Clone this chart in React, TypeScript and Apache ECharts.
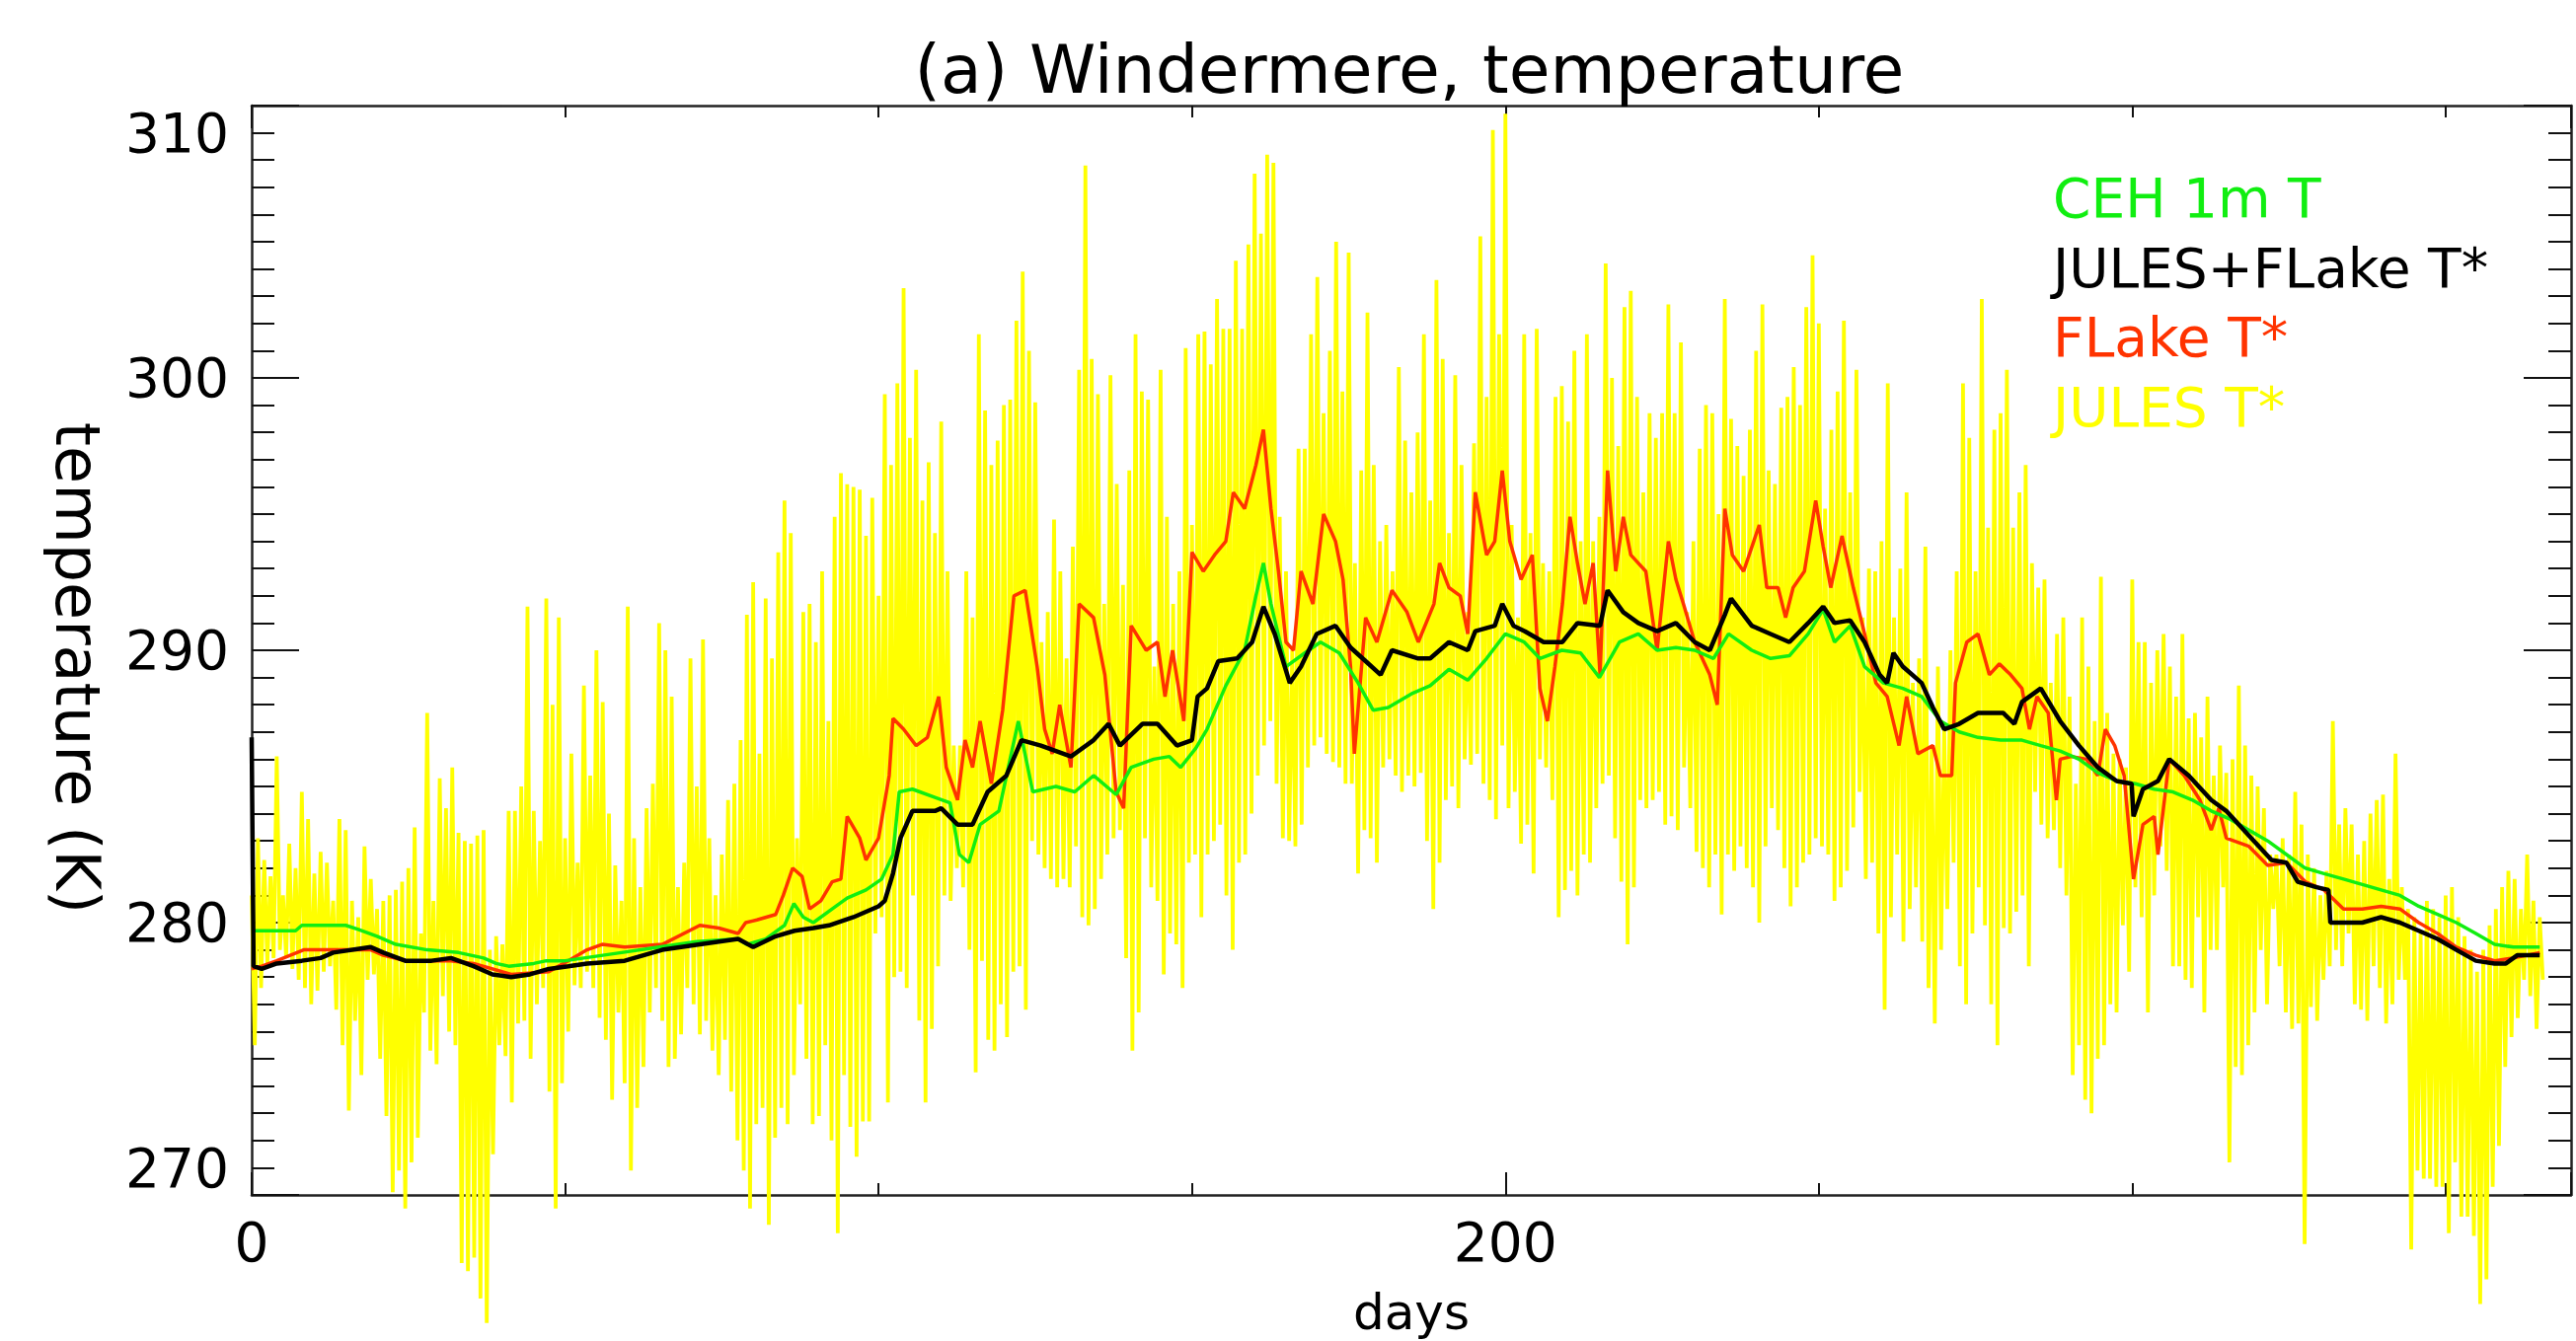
import React, { useEffect, useRef } from 'react';
import * as echarts from 'echarts';

const FONT = 'DejaVu Sans';

const titleText = '(a) Windermere, temperature';
const xName = 'days';
const yName = 'temperature (K)';
const xTickLabels = [0, 200];
const seriesNames = ['CEH 1m T', 'JULES+FLake T*', 'FLake T*', 'JULES T*'];
const seriesColors = ['#11ee11', '#000000', '#ff3300', '#ffff00'];

// JULES T*: daily upper and lower extremes, day 0..365
const julesHigh = [
  281.0, 283.1, 282.3, 281.7, 286.1, 281.0, 282.9, 282.0, 284.8, 283.8,
  281.8, 282.6, 282.2, 280.8, 283.8, 283.4, 280.8, 280.2, 282.8, 281.6,
  280.5, 280.8, 281.0, 281.2, 281.5, 282.0, 283.5, 279.6, 287.7, 280.8,
  285.3, 284.2, 285.7, 283.3, 283.0, 282.9, 283.2, 283.4, 279.0, 279.5,
  279.2, 284.1, 284.1, 285.0, 291.6, 284.1, 283.0, 291.9, 288.0, 291.2,
  283.1, 286.2, 282.2, 288.7, 285.4, 290.0, 288.1, 284.0, 282.1, 280.8,
  291.6, 283.1, 281.3, 284.2, 285.1, 291.0, 290.0, 288.3, 281.3, 282.2,
  289.7, 285.0, 290.4, 283.1, 281.0, 282.5, 284.5, 285.1, 286.7, 291.3,
  292.5, 286.2, 291.9, 289.7, 293.6, 295.5, 294.3, 283.1, 291.4, 291.7,
  290.3, 292.9, 287.4, 294.9, 296.5, 296.1, 296.0, 295.9, 294.2, 295.6,
  292.0, 299.4, 296.8, 299.8, 303.3, 297.8, 300.3, 295.5, 296.9, 294.3,
  298.4, 292.9, 286.5, 286.5, 292.9, 291.2, 301.6, 298.8, 296.8, 297.7,
  299.0, 299.2, 302.1, 303.9, 301.0, 299.1, 290.3, 291.4, 294.8, 292.9,
  289.7, 293.8, 300.3, 307.8, 300.7, 299.4, 291.7, 300.1, 296.1, 292.4,
  296.6, 301.6, 299.5, 299.2, 289.4, 300.3, 294.9, 291.7, 292.9, 301.1,
  294.6, 301.6, 301.7, 300.5, 302.9, 301.8, 301.8, 304.3, 301.8, 304.9,
  307.5, 305.3, 308.2, 307.9, 294.9, 292.9, 290.0, 297.4, 297.4, 301.6,
  303.7, 298.7, 301.0, 305.0, 299.5, 304.6, 293.2, 296.6, 302.4, 296.8,
  294.0, 294.6, 292.9, 300.4, 297.7, 295.8, 298.0, 301.6, 295.5, 303.6,
  300.7, 294.3, 300.1, 296.8, 291.4, 297.6, 305.2, 299.3, 309.1, 301.6,
  309.7, 294.6, 291.2, 301.6, 294.3, 301.8, 293.2, 292.9, 299.3, 299.7,
  298.4, 301.0, 294.0, 301.6, 294.0, 294.9, 304.2, 300.0, 297.5, 302.6,
  303.2, 299.3, 295.8, 298.7, 297.8, 298.7, 302.7, 298.7, 301.3, 291.4,
  294.0, 297.4, 299.0, 298.7, 295.0, 302.9, 298.5, 297.5, 296.4, 298.1,
  301.0, 302.7, 296.6, 296.1, 298.9, 299.3, 300.4, 299.0, 302.6, 304.5,
  302.0, 295.2, 298.1, 299.5, 302.1, 295.8, 300.3, 291.2, 293.0, 292.9,
  294.0, 299.8, 291.2, 293.0, 295.8, 288.8, 289.7, 293.8, 286.5, 289.4,
  287.1, 290.0, 292.9, 299.8, 297.8, 292.9, 302.9, 294.5, 298.1, 298.7,
  300.3, 294.5, 295.8, 296.8, 293.2, 292.3, 292.6, 288.8, 290.6, 291.2,
  288.3, 285.1, 291.2, 289.4, 287.4, 292.7, 287.7, 286.2, 286.0, 285.7,
  292.6, 290.3, 290.3, 288.8, 290.0, 290.6, 289.4, 288.3, 290.6, 287.5,
  287.7, 286.8, 288.3, 285.4, 286.5, 285.5, 286.0, 288.7, 286.5, 285.4,
  285.0, 284.2, 282.5, 282.5, 283.1, 282.5, 284.8, 283.6, 282.5, 282.0,
  281.0, 281.9, 287.4, 283.6, 284.2, 283.6, 282.5, 283.0, 284.0, 284.5,
  284.7, 281.6, 286.2, 281.3, 280.5, 280.2, 279.6, 280.8, 280.5, 280.2,
  281.0, 281.3, 280.2, 279.5, 279.0, 278.2, 279.0, 279.9, 280.5, 281.3,
  281.9, 281.6, 280.5, 282.5, 280.8, 280.2,
];

const julesLow = [
  275.5, 277.6, 278.5, 278.7, 279.0, 278.7, 278.3, 277.9, 277.6, 277.0,
  277.5, 278.2, 278.4, 276.8, 275.5, 273.1, 276.4, 274.4, 277.9, 278.1,
  275.0, 272.9, 270.1, 270.9, 269.5, 271.2, 272.1, 276.7, 275.3, 274.8,
  277.3, 276.0, 275.5, 267.5, 267.2, 267.7, 266.2, 265.3, 271.5, 275.5,
  275.1, 273.4, 276.3, 276.4, 275.0, 277.0, 277.6, 273.8, 269.5, 274.1,
  276.0, 277.7, 277.6, 278.2, 277.6, 276.5, 275.7, 273.5, 276.7, 274.1,
  270.9, 273.2, 274.7, 276.7, 277.6, 276.4, 274.7, 275.0, 275.9, 277.6,
  277.0, 275.9, 276.4, 275.3, 274.4, 275.7, 273.8, 272.0, 270.9, 269.5,
  272.6, 273.2, 268.9, 272.1, 273.2, 272.6, 274.4, 277.0, 275.0, 272.6,
  272.9, 275.5, 272.0, 268.6, 274.4, 272.5, 271.4, 272.7, 272.7, 279.6,
  280.2, 273.4, 278.0, 278.2, 277.6, 281.0, 276.4, 273.4, 276.1, 278.4,
  281.0, 280.8, 282.0, 281.3, 279.0, 274.5, 278.6, 275.7, 275.3, 277.0,
  275.8, 278.2, 278.4, 276.8, 283.0, 282.5, 282.0, 281.6, 281.3, 281.6,
  281.3, 282.8, 280.2, 279.9, 280.5, 281.6, 282.5, 283.1, 283.4, 278.7,
  275.3, 276.7, 283.1, 281.3, 280.8, 278.1, 279.6, 279.2, 277.6, 282.2,
  282.5, 280.2, 282.5, 283.0, 283.6, 281.0, 279.0, 282.2, 282.5, 284.0,
  285.4, 286.5, 287.4, 285.1, 283.1, 283.0, 282.8, 283.6, 285.7, 286.5,
  286.8, 286.2, 285.9, 285.7, 285.1, 285.1, 281.8, 283.4, 283.1, 282.2,
  285.7, 286.0, 285.4, 284.8, 285.4, 285.0, 285.5, 283.0, 280.5, 282.2,
  284.5, 285.0, 284.2, 286.0, 285.8, 286.2, 285.1, 284.5, 283.8, 286.5,
  284.2, 284.8, 282.9, 283.6, 281.8, 286.0, 285.7, 284.5, 280.2, 281.2,
  281.9, 281.0, 282.5, 282.2, 284.2, 285.1, 285.4, 283.1, 281.5, 279.2,
  281.3, 284.5, 284.2, 284.5, 284.8, 283.6, 283.9, 283.4, 285.7, 284.2,
  282.6, 282.0, 281.3, 282.5, 280.3, 282.5, 281.9, 282.8, 282.0, 281.3,
  280.0, 282.8, 284.2, 283.4, 282.0, 280.6, 281.3, 282.2, 282.5, 283.1,
  282.8, 282.5, 280.8, 281.3, 281.9, 283.5, 284.8, 281.6, 282.2, 279.6,
  276.8, 280.2, 282.5, 279.3, 280.5, 281.3, 279.3, 277.6, 276.3, 279.0,
  280.5, 282.2, 278.4, 277.0, 279.6, 281.3, 279.9, 277.0, 275.5, 279.8,
  279.6, 280.4, 281.0, 278.4, 284.8, 283.6, 283.1, 283.4, 282.0, 281.0,
  274.4, 275.5, 273.5, 273.0, 275.0, 275.5, 277.0, 276.7, 279.9, 278.2,
  281.3, 280.2, 276.7, 281.0, 282.8, 281.9, 278.4, 278.4, 277.9, 277.6,
  280.2, 276.7, 279.0, 279.0, 281.3, 271.2, 274.7, 274.4, 275.5, 276.7,
  279.0, 277.0, 280.5, 278.4, 276.7, 276.1, 276.3, 268.2, 276.9, 276.4,
  277.9, 278.4, 279.0, 278.4, 279.6, 277.0, 276.8, 276.4, 278.4, 277.6,
  276.3, 277.0, 277.9, 277.9, 268.0, 270.9, 270.6, 270.6, 270.3, 270.3,
  268.6, 271.2, 269.2, 269.2, 268.5, 266.0, 266.9, 270.3, 271.8, 274.7,
  275.8, 276.5, 277.9, 277.3, 276.1, 277.9,
];

// JULES+FLake T*
const jfDays = [
  0, 0.3, 1.6, 4, 8, 11, 13, 19, 21, 24.5, 28.7, 31.8, 35.4, 38.4, 41.4, 44.4, 47.4, 50.5, 53.5, 59.5,
  65.5, 71.5, 77.6, 80, 83.6, 86.6, 89.6, 92.1, 96, 98, 100, 101, 102.3, 103.5, 105.4, 109, 110, 112.6, 115, 117.4,
  120.4, 122.8, 125.9, 128.3, 130.7, 134.3, 136.7, 138.5, 142.1, 144.5, 147.6, 150, 150.9, 152.4, 154.2, 157.2, 159.6, 161.4, 163.2, 165.6,
  167.4, 169.9, 172.9, 175.3, 177.7, 180.1, 181.9, 186.1, 188, 191, 194, 195.2, 198.3, 199.5, 201.3, 203.1, 206.1, 209.1, 211.5, 215.1,
  216.3, 218.8, 221.2, 224.2, 227.2, 230.2, 232.6, 235, 236, 239.3, 242.3, 245.3, 248.3, 250.7, 252.5, 255, 257.3, 259.7, 260.9, 261.9,
  263.4, 266.4, 268.2, 270, 272.4, 275.4, 279.4, 281.2, 282.4, 285.4, 288.5, 291.5, 294.5, 297.5, 299.9, 300.2, 301.7, 304.1, 305.9, 309,
  312.6, 315, 318.6, 322.2, 324.6, 326.4, 329.4, 331.3, 331.6, 336.7, 339.7, 342.7, 345.7, 348.7, 351.7, 354.8, 357.8, 359.6, 361.4, 365,
];
const jfTemp = [
  286.8, 278.4, 278.3, 278.5, 278.6, 278.7, 278.9, 279.1, 278.9, 278.6, 278.6, 278.7, 278.4, 278.1, 278.0, 278.1, 278.3, 278.4, 278.5, 278.6,
  279.0, 279.2, 279.4, 279.1, 279.5, 279.7, 279.8, 279.9, 280.2, 280.4, 280.6, 280.8, 281.8, 283.1, 284.1, 284.1, 284.2, 283.6, 283.6, 284.8,
  285.4, 286.7, 286.5, 286.3, 286.1, 286.7, 287.3, 286.5, 287.3, 287.3, 286.5, 286.7, 288.3, 288.6, 289.6, 289.7, 290.3, 291.6, 290.6, 288.8,
  289.4, 290.6, 290.9, 290.1, 289.6, 289.1, 290.0, 289.7, 289.7, 290.3, 290.0, 290.7, 290.9, 291.7, 290.9, 290.7, 290.3, 290.3, 291.0, 290.9,
  292.2, 291.4, 291.0, 290.7, 291.0, 290.3, 290.0, 291.3, 291.9, 290.9, 290.6, 290.3, 291.0, 291.6, 291.0, 291.1, 290.3, 289.1, 288.8, 289.9,
  289.4, 288.8, 287.9, 287.1, 287.3, 287.7, 287.7, 287.3, 288.1, 288.6, 287.4, 286.5, 285.7, 285.2, 285.1, 283.9, 284.9, 285.2, 286.0, 285.4,
  284.5, 284.1, 283.2, 282.3, 282.2, 281.5, 281.3, 281.2, 280.0, 280.0, 280.2, 280.0, 279.7, 279.4, 279.0, 278.6, 278.5, 278.5, 278.8, 278.8,
];

// CEH 1m T
const cehDays = [
  0, 7, 8, 15, 17, 20, 23, 28, 33, 37, 39, 41, 45, 47, 50, 53, 59, 65, 71, 77.6,
  79, 82, 85, 86.5, 88, 89.6, 92.6, 95, 98, 100.5, 102.3, 103.3, 105.4, 109, 111.4, 112.9, 114.4, 116.2, 119.2, 122.3,
  124.6, 128.3, 131.3, 134.3, 137.9, 140.3, 143.9, 146.4, 148.2, 150.6, 152.4, 155.4, 158.4, 160.2, 161.4, 162.6, 165, 168, 170.5, 173.5,
  176.5, 178.9, 181.3, 185, 188, 191, 194, 197, 200, 203, 205.5, 209, 212, 215, 218.2, 221.2, 224.2, 227.2, 230.2, 233.2,
  235.6, 239.3, 242.3, 245.3, 248.3, 250.7, 252.5, 255, 257.3, 260.3, 263.4, 266.4, 269.4, 272.4, 275.4, 279, 282.4, 285.4, 288.5, 291.5,
  294.5, 297.5, 300.5, 303.5, 306.5, 309.6, 312.6, 315.6, 318.6, 321.6, 324.6, 327.6, 330.6, 333.7, 336.7, 339.7, 342.7, 345.7, 348.7, 351.7,
  354.8, 357.8, 360.8, 365,
];
const cehTemp = [
  279.7, 279.7, 279.9, 279.9, 279.75, 279.5, 279.2, 279.0, 278.9, 278.7, 278.5, 278.4, 278.5, 278.6, 278.6, 278.7, 278.9, 279.1, 279.3, 279.4,
  279.2, 279.4, 279.9, 280.7, 280.2, 280.0, 280.5, 280.9, 281.2, 281.6, 282.5, 284.8, 284.9, 284.6, 284.4, 282.5, 282.2, 283.6, 284.1, 287.4,
  284.8, 285.0, 284.8, 285.4, 284.7, 285.7, 286.0, 286.1, 285.7, 286.4, 287.1, 288.7, 290.0, 292.0, 293.2, 291.7, 289.4, 289.9, 290.3, 289.9,
  288.8, 287.8, 287.9, 288.4, 288.7, 289.3, 288.9, 289.7, 290.6, 290.3, 289.7, 290.0, 289.9, 289.0, 290.3, 290.6, 290.0, 290.1, 290.0, 289.7,
  290.6, 290.0, 289.7, 289.8, 290.6, 291.5, 290.3, 290.9, 289.4, 288.8, 288.6, 288.3, 287.4, 287.0, 286.8, 286.7, 286.7, 286.5, 286.3, 286.0,
  285.5, 285.2, 285.1, 284.9, 284.8, 284.5, 284.1, 283.8, 283.4, 283.0, 282.5, 282.0, 281.8, 281.6, 281.4, 281.2, 281.0, 280.6, 280.3, 280.0,
  279.6, 279.2, 279.1, 279.1,
];

// FLake T*
const flDays = [
  0, 1.6, 4, 8.3, 13, 19, 21, 24.5, 31.8, 35.4, 41.4, 47.4, 50.5, 53.5, 55.9, 59.5, 65.5, 71.5, 74.5, 77.6,
  78.8, 80.6, 83.6, 84.8, 86.3, 87.8, 89, 90.8, 92.6, 94, 95, 97, 98, 100, 101.7, 102.3, 104, 106, 107.8, 109.6,
  110.8, 112.6, 113.8, 115, 116.2, 118, 119.8, 121.6, 123.4, 125.3, 126.5, 127.7, 128.9, 130.7, 132, 134.3, 136.1, 137.9, 139.1, 140.3,
  142.7, 144.5, 145.7, 146.9, 148.7, 150, 151.8, 153.6, 155.4, 156.6, 158.4, 160.2, 161.4, 162.6, 163.8, 165, 166.2, 167.4, 169.3, 171,
  172.9, 174.1, 175.3, 175.9, 177.7, 179.5, 181.9, 184.3, 186.1, 188.6, 189.5, 191, 192.8, 194, 195.2, 197, 198.3, 199.5, 200.7, 202.5,
  204.3, 205.5, 206.7, 207.9, 209.1, 210.3, 211.5, 212.7, 214, 215.1, 216.3, 217.6, 218.8, 220, 222.4, 224.2, 226, 227.2, 228.4, 230.2,
  232.6, 233.8, 235, 236.2, 238, 240.5, 241.7, 243.5, 244.7, 245.9, 247.7, 249.5, 250.7, 251.9, 253.7, 255.5, 257.3, 259.1, 260.9, 262.8,
  264, 265.8, 268.2, 269.4, 271.2, 271.8, 273.6, 275.4, 277.2, 278.8, 280.6, 282.4, 283.6, 284.8, 286.6, 287.9, 288.5, 290.3, 292.7, 294.5,
  295.7, 297.2, 298.7, 300.2, 301.7, 303.5, 304.1, 305.9, 308.3, 310.8, 312.6, 313.8, 315, 318.6, 321.6, 324.6, 327.6, 330.6, 333.7, 336.7,
  339.7, 342.7, 345.7, 348.7, 351.7, 354.8, 357.8, 360.8, 365,
];
const flTemp = [
  278.3, 278.4, 278.6, 279.0, 279.0, 279.0, 278.8, 278.6, 278.6, 278.5, 278.1, 278.2, 278.6, 279.0, 279.2, 279.1, 279.2, 279.9, 279.8, 279.6,
  280.0, 280.1, 280.3, 281.0, 282.0, 281.7, 280.5, 280.8, 281.5, 281.6, 283.9, 283.1, 282.3, 283.1, 285.4, 287.5, 287.1, 286.5, 286.8, 288.3,
  285.7, 284.5, 286.7, 285.7, 287.4, 285.1, 287.8, 292.0, 292.2, 289.4, 287.1, 286.2, 288.0, 285.7, 291.7, 291.2, 289.1, 284.8, 284.2, 290.9,
  290.0, 290.3, 288.3, 290.0, 287.4, 293.6, 292.9, 293.5, 294.0, 295.8, 295.2, 296.8, 298.1, 295.2, 292.9, 290.3, 290.0, 292.9, 291.7, 295.0,
  294.0, 292.6, 289.4, 286.2, 291.2, 290.3, 292.2, 291.4, 290.3, 291.7, 293.2, 292.3, 292.0, 290.6, 295.8, 293.5, 294.0, 296.6, 294.0, 292.6,
  293.5, 288.6, 287.4, 289.4, 291.7, 294.9, 293.2, 291.7, 293.2, 289.1, 296.6, 292.9, 294.9, 293.5, 292.9, 290.0, 294.0, 292.6, 291.7, 290.3,
  289.1, 288.0, 295.2, 293.5, 292.9, 294.6, 292.3, 292.3, 291.2, 292.3, 292.9, 295.5, 293.8, 292.3, 294.2, 292.3, 290.6, 288.8, 288.3, 286.5,
  288.3, 286.2, 286.5, 285.4, 285.4, 288.8, 290.3, 290.6, 289.1, 289.5, 289.1, 288.6, 287.1, 288.3, 287.7, 284.5, 286.0, 286.1, 286.0, 285.4,
  287.1, 286.5, 285.4, 281.6, 283.6, 283.9, 282.5, 286.0, 285.4, 284.5, 283.4, 284.2, 283.1, 282.8, 282.1, 282.2, 281.5, 281.2, 280.5, 280.5,
  280.6, 280.5, 280.0, 279.6, 279.1, 278.8, 278.6, 278.7, 278.9,
];

const pairs = (xs: number[], ys: number[]) => xs.map((x, i) => [x, ys[i]]);

export default function App() {
  const ref = useRef<HTMLDivElement>(null);

  useEffect(() => {
    if (!ref.current) return;
    const chart = echarts.init(ref.current, null, { renderer: 'svg' });

    const julesData: number[][] = [];
    for (let d = 0; d < julesHigh.length; d++) {
      julesData.push([d, julesHigh[d]]);
      julesData.push([d + 0.5, julesLow[d]]);
    }

    const tickLine = { color: '#111', width: 2 };
    const xCommon = {
      type: 'value',
      min: 0,
      max: 370,
      interval: 200,
      splitLine: { show: false },
      minorSplitLine: { show: false },
      axisLine: { show: true, onZero: false, lineStyle: { color: '#222', width: 2.5 } },
      axisTick: { show: true, inside: true, length: 23, lineStyle: tickLine },
      minorTick: { show: true, splitNumber: 4, length: 12, lineStyle: tickLine },
    };
    const yCommon = {
      type: 'value',
      min: 270,
      max: 310,
      interval: 10,
      splitLine: { show: false },
      minorSplitLine: { show: false },
      axisLine: { show: true, onZero: false, lineStyle: { color: '#222', width: 2.5 } },
      axisTick: { show: true, inside: true, length: 48, lineStyle: tickLine },
      minorTick: { show: true, splitNumber: 10, length: 23, lineStyle: tickLine },
    };

    const option: any = {
      animation: false,
      backgroundColor: '#ffffff',
      textStyle: { fontFamily: FONT },
      title: {
        text: titleText,
        left: 1428,
        top: 36,
        textAlign: 'center',
        padding: 0,
        textStyle: { fontFamily: FONT, fontSize: 68, fontWeight: 'normal', color: '#000' },
      },
      legend: {
        orient: 'vertical',
        left: 2074,
        top: 166,
        padding: 0,
        itemWidth: 0,
        itemHeight: 0,
        itemGap: 0,
        selectedMode: false,
        textStyle: { fontFamily: FONT, fontSize: 55, lineHeight: 70.5 },
        data: seriesNames.map((n, i) => ({ name: n, textStyle: { color: seriesColors[i] } })),
      },
      grid: {
        left: 255,
        top: 107,
        width: 2350,
        height: 1104,
        containLabel: false,
        outerBoundsMode: 'none',
      },
      xAxis: [
        {
          ...xCommon,
          position: 'bottom',
          name: xName,
          nameLocation: 'middle',
          nameGap: 94,
          nameTextStyle: { fontFamily: FONT, fontSize: 50, lineHeight: 50, color: '#000' },
          axisLabel: {
            show: true,
            margin: 20,
            fontFamily: FONT,
            fontSize: 55,
            color: '#000',
            formatter: (v: number) => (xTickLabels.includes(v) ? String(v) : ''),
          },
        },
        {
          ...xCommon,
          position: 'top',
          axisLabel: { show: false },
        },
      ],
      yAxis: [
        {
          ...yCommon,
          position: 'left',
          name: yName,
          nameLocation: 'middle',
          nameRotate: -90,
          nameGap: 146,
          nameTextStyle: { fontFamily: FONT, fontSize: 62, color: '#000', padding: [0, 0, 0, 36] },
          axisLabel: {
            show: true,
            margin: 23,
            fontFamily: FONT,
            fontSize: 55,
            color: '#000',
            verticalAlignMinLabel: 'bottom',
            verticalAlignMaxLabel: 'top',
          },
        },
        {
          ...yCommon,
          position: 'right',
          axisLabel: { show: false },
        },
      ],
      series: [
        {
          name: seriesNames[3],
          type: 'line',
          data: julesData,
          xAxisIndex: 0,
          yAxisIndex: 0,
          showSymbol: false,
          symbol: 'none',
          clip: false,
          color: seriesColors[3],
          lineStyle: { color: seriesColors[3], width: 3.8 },
          silent: true,
          z: 2,
        },
        {
          name: seriesNames[2],
          type: 'line',
          data: pairs(flDays, flTemp),
          showSymbol: false,
          symbol: 'none',
          clip: false,
          color: seriesColors[2],
          lineStyle: { color: seriesColors[2], width: 3.5 },
          silent: true,
          z: 3,
        },
        {
          name: seriesNames[0],
          type: 'line',
          data: pairs(cehDays, cehTemp),
          showSymbol: false,
          symbol: 'none',
          clip: false,
          color: seriesColors[0],
          lineStyle: { color: seriesColors[0], width: 3.5 },
          silent: true,
          z: 4,
        },
        {
          name: seriesNames[1],
          type: 'line',
          data: pairs(jfDays, jfTemp),
          showSymbol: false,
          symbol: 'none',
          clip: false,
          color: seriesColors[1],
          lineStyle: { color: seriesColors[1], width: 4.5 },
          silent: true,
          z: 5,
        },
      ],
    };

    chart.setOption(option);
    return () => chart.dispose();
  }, []);

  return (
    <div
      ref={ref}
      style={{ position: 'fixed', left: 0, top: 0, width: '2610px', height: '1359px', background: '#fff' }}
    />
  );
}
